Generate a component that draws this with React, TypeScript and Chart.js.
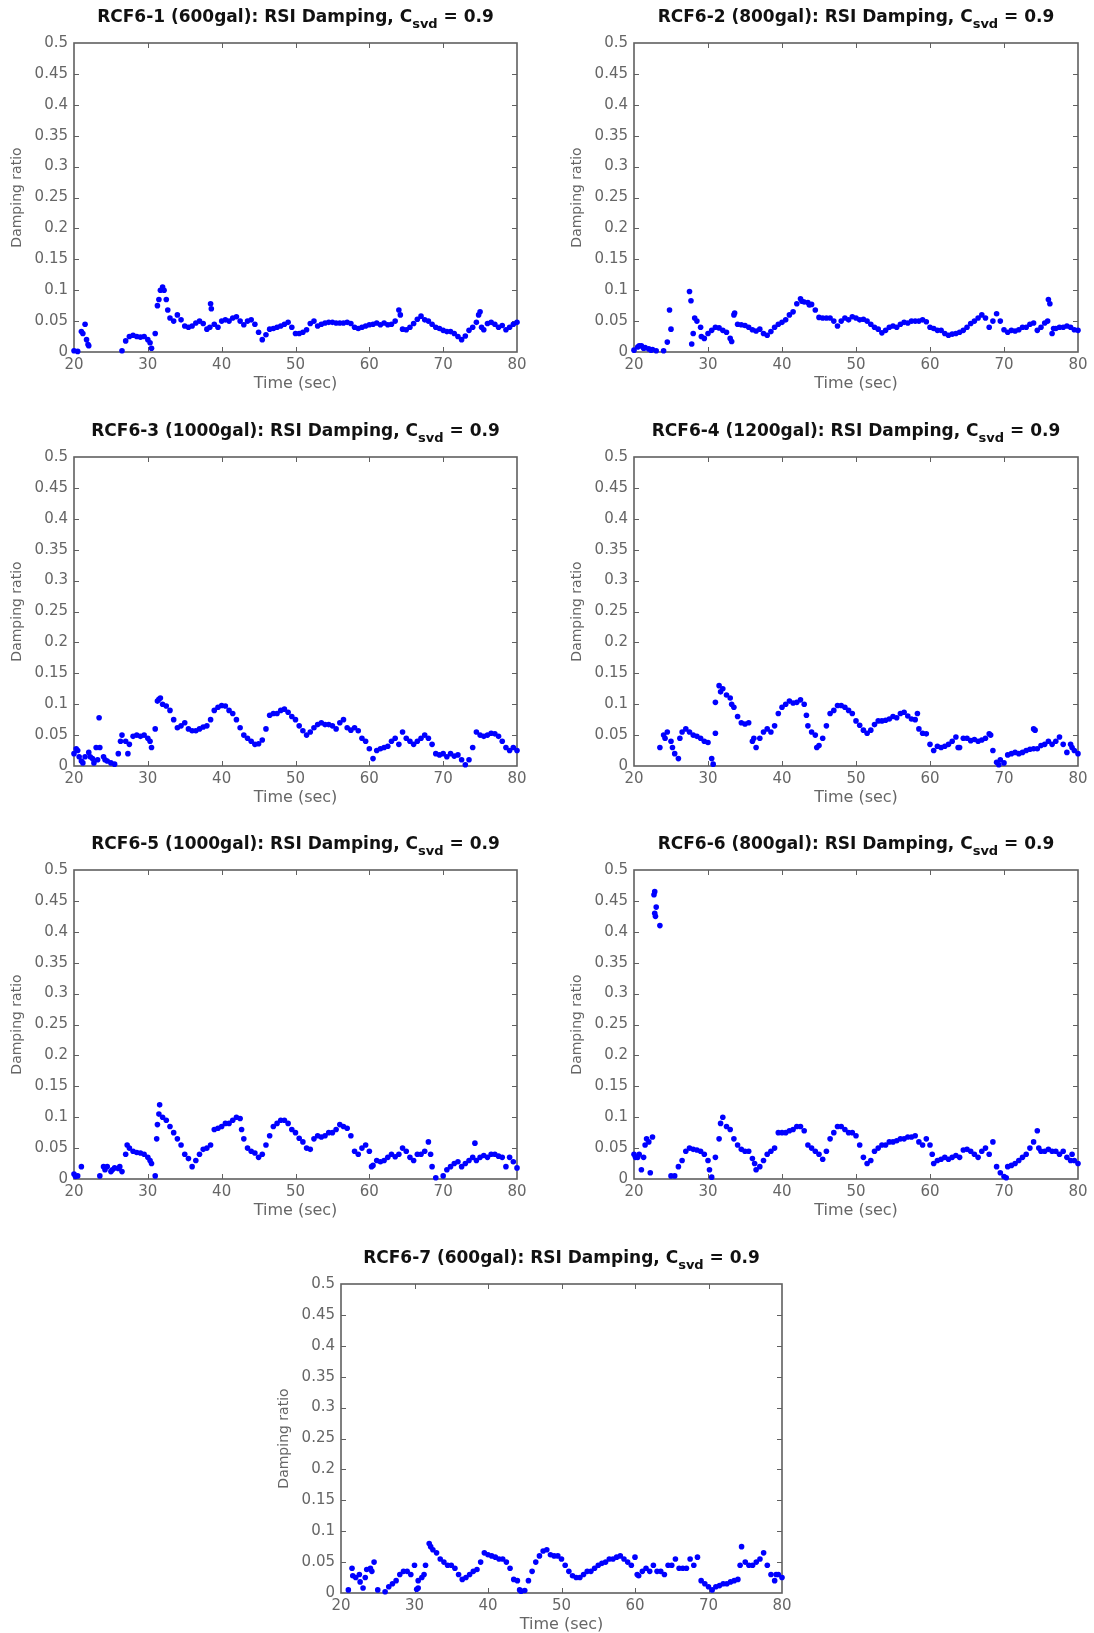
import React, { useEffect, useRef } from "react";
import { Chart, registerables } from "chart.js";

Chart.register(...registerables);

// Identified RSI damping ratio, sampled every 0.5 s from 20 s to 80 s (null = no estimate)
const T_START = 20;
const T_STEP = 0.5;

const X_TICKS = [20, 30, 40, 50, 60, 70, 80];
const Y_TICKS = [0, 0.05, 0.1, 0.15, 0.2, 0.25, 0.3, 0.35, 0.4, 0.45, 0.5];
const Y_TICK_LABELS = ["0", "0.05", "0.1", "0.15", "0.2", "0.25", "0.3", "0.35", "0.4", "0.45", "0.5"];

const TEST_NAMES = [
  "RCF6-1 (600gal)",
  "RCF6-2 (800gal)",
  "RCF6-3 (1000gal)",
  "RCF6-4 (1200gal)",
  "RCF6-5 (1000gal)",
  "RCF6-6 (800gal)",
  "RCF6-7 (600gal)",
];

const RCF6_1: (number | null)[] = [
  0.002, 0.001, 0.033, 0.045, 0.01, null, null, null, null, null,
  null, null, null, 0.002, 0.018, 0.025, 0.027, 0.025, 0.024, 0.025,
  0.02, 0.006, 0.03, 0.085, 0.105, 0.085, 0.055, 0.05, 0.06, 0.052,
  0.042, 0.04, 0.042, 0.047, 0.05, 0.046, 0.037, 0.078, 0.045, 0.04,
  0.05, 0.052, 0.05, 0.055, 0.057, 0.05, 0.044, 0.05, 0.052, 0.045,
  0.032, 0.02, 0.028, 0.037, 0.038, 0.04, 0.042, 0.045, 0.048, 0.04,
  0.03, 0.03, 0.032, 0.036, 0.046, 0.05, 0.042, 0.045, 0.047, 0.048,
  0.048, 0.047, 0.047, 0.047, 0.048, 0.046, 0.04, 0.038, 0.04, 0.042,
  0.044, 0.045, 0.047, 0.044, 0.047, 0.044, 0.045, 0.05, 0.068, 0.037,
  0.036, 0.04, 0.046, 0.053, 0.058, 0.052, 0.05, 0.045, 0.04, 0.038,
  0.035, 0.033, 0.033, 0.03, 0.025, 0.02, 0.026, 0.035, 0.04, 0.048,
  0.065, 0.036, 0.046, 0.048, 0.045, 0.04, 0.043, 0.036, 0.04, 0.045,
  0.048,
];
const RCF6_1_EXTRA: [number, number][] = [
  [21.2, 0.03], [21.7, 0.02], [21.9, 0.012], [30.3, 0.015], [31.3, 0.075], [31.7, 0.1],
  [32.2, 0.1], [32.7, 0.068], [38.6, 0.07], [38.4, 0.04], [64.2, 0.06], [74.8, 0.06], [75.2, 0.04],
];

const RCF6_2: (number | null)[] = [
  0.003, 0.008, 0.01, 0.007, 0.005, 0.004, 0.002, null, 0.002, 0.016,
  0.037, null, null, null, null, 0.098, 0.03, 0.05, 0.04, 0.022,
  0.03, 0.035, 0.04, 0.039, 0.035, 0.032, 0.022, 0.06, 0.045, 0.044,
  0.043, 0.04, 0.036, 0.034, 0.037, 0.03, 0.027, 0.033, 0.04, 0.045,
  0.048, 0.052, 0.06, 0.065, 0.078, 0.086, 0.081, 0.08, 0.077, 0.068,
  0.056, 0.055, 0.055, 0.055, 0.05, 0.042, 0.05, 0.055, 0.052, 0.057,
  0.055, 0.052, 0.053, 0.05, 0.045, 0.04, 0.037, 0.031, 0.035, 0.04,
  0.042, 0.04, 0.045, 0.048, 0.047, 0.05, 0.05, 0.05, 0.052, 0.049,
  0.04, 0.038, 0.035, 0.035, 0.03, 0.027, 0.029, 0.03, 0.032, 0.035,
  0.04, 0.046, 0.05, 0.055, 0.06, 0.055, 0.04, 0.05, 0.062, 0.05,
  0.036, 0.032, 0.035, 0.034, 0.036, 0.04, 0.04, 0.045, 0.047, 0.035,
  0.04, 0.047, 0.085, 0.03, 0.038, 0.04, 0.04, 0.042, 0.04, 0.036,
  0.035,
];
const RCF6_2_EXTRA: [number, number][] = [
  [20.7, 0.01], [21.3, 0.006], [22.3, 0.003], [24.8, 0.068], [27.7, 0.083], [27.8, 0.013],
  [28.2, 0.055], [29.1, 0.025], [33.2, 0.017], [33.6, 0.063], [42.7, 0.082], [43.7, 0.076],
  [75.9, 0.05], [76.2, 0.078], [76.7, 0.038],
];

const RCF6_3: (number | null)[] = [
  0.02, 0.025, 0.008, 0.015, 0.022, 0.012, 0.03, 0.03, 0.015, 0.008,
  0.005, 0.003, 0.02, 0.05, 0.04, 0.035, 0.048, 0.05, 0.048, 0.05,
  0.045, 0.03, 0.06, 0.108, 0.1, 0.097, 0.09, 0.075, 0.062, 0.065,
  0.07, 0.06, 0.057, 0.057, 0.06, 0.063, 0.065, 0.075, 0.09, 0.095,
  0.098, 0.097, 0.09, 0.085, 0.075, 0.062, 0.05, 0.045, 0.04, 0.035,
  0.036, 0.042, 0.06, 0.082, 0.085, 0.085, 0.09, 0.092, 0.087, 0.08,
  0.075, 0.065, 0.057, 0.05, 0.055, 0.062, 0.067, 0.07, 0.067, 0.067,
  0.065, 0.06, 0.07, 0.075, 0.062, 0.058, 0.062, 0.057, 0.045, 0.04,
  0.028, 0.012, 0.025, 0.028, 0.03, 0.032, 0.04, 0.045, 0.035, 0.055,
  0.045, 0.04, 0.035, 0.04, 0.045, 0.05, 0.045, 0.035, 0.02, 0.018,
  0.02, 0.015, 0.02, 0.016, 0.018, 0.01, 0.002, 0.01, 0.03, 0.055,
  0.05, 0.048, 0.05, 0.053, 0.052, 0.048, 0.04, 0.03, 0.025, 0.03,
  0.025,
];
const RCF6_3_EXTRA: [number, number][] = [
  [20.3, 0.028], [20.7, 0.015], [21.2, 0.005], [22.2, 0.015], [22.7, 0.005], [23.2, 0.01],
  [23.4, 0.078], [24.2, 0.01], [26.3, 0.04], [27.3, 0.02], [30.3, 0.04], [31.3, 0.105], [31.7, 0.11],
];

const RCF6_4: (number | null)[] = [
  null, null, null, null, null, null, null, 0.03, 0.05, 0.055,
  0.04, 0.02, 0.012, 0.055, 0.06, 0.055, 0.05, 0.048, 0.045, 0.04,
  0.038, 0.012, 0.053, 0.13, 0.125, 0.115, 0.11, 0.095, 0.08, 0.07,
  0.068, 0.07, 0.04, 0.03, 0.045, 0.055, 0.06, 0.055, 0.065, 0.085,
  0.095, 0.1, 0.105, 0.102, 0.103, 0.107, 0.1, 0.065, 0.055, 0.05,
  0.033, 0.045, 0.065, 0.085, 0.09, 0.098, 0.098, 0.095, 0.09, 0.085,
  0.073, 0.066, 0.058, 0.053, 0.058, 0.067, 0.073, 0.073, 0.074, 0.076,
  0.08, 0.078, 0.085, 0.087, 0.081, 0.076, 0.075, 0.06, 0.053, 0.052,
  0.035, 0.025, 0.032, 0.03, 0.032, 0.035, 0.04, 0.047, 0.03, 0.045,
  0.045, 0.041, 0.043, 0.04, 0.042, 0.045, 0.052, 0.025, 0.006, 0.01,
  0.005, 0.018, 0.02, 0.022, 0.02, 0.022, 0.025, 0.027, 0.028, 0.028,
  0.033, 0.035, 0.04, 0.035, 0.04, 0.047, 0.035, 0.022, 0.035, 0.025,
  0.02,
];
const RCF6_4_EXTRA: [number, number][] = [
  [24.2, 0.045], [25.2, 0.03], [26.2, 0.045], [30.7, 0.003], [31.0, 0.103], [31.7, 0.12],
  [33.2, 0.1], [36.2, 0.045], [43.3, 0.082], [44.7, 0.03], [58.3, 0.085], [63.8, 0.03],
  [68.2, 0.05], [69.3, 0.002], [74.0, 0.06], [74.2, 0.058], [79.2, 0.03],
];

const RCF6_5: (number | null)[] = [
  0.008, 0.005, 0.02, null, null, null, null, 0.005, 0.02, 0.02,
  0.012, 0.018, 0.017, 0.012, 0.04, 0.05, 0.045, 0.043, 0.042, 0.04,
  0.035, 0.025, 0.005, 0.105, 0.1, 0.095, 0.085, 0.075, 0.065, 0.055,
  0.04, 0.033, 0.02, 0.03, 0.04, 0.048, 0.05, 0.055, 0.08, 0.082,
  0.085, 0.09, 0.09, 0.095, 0.1, 0.098, 0.065, 0.05, 0.045, 0.042,
  0.035, 0.04, 0.055, 0.07, 0.085, 0.09, 0.095, 0.095, 0.09, 0.08,
  0.075, 0.066, 0.06, 0.05, 0.048, 0.065, 0.07, 0.068, 0.07, 0.075,
  0.075, 0.08, 0.088, 0.085, 0.082, 0.07, 0.045, 0.04, 0.05, 0.055,
  0.045, 0.022, 0.03, 0.028, 0.03, 0.035, 0.04, 0.036, 0.04, 0.05,
  0.045, 0.035, 0.03, 0.04, 0.04, 0.045, 0.06, 0.02, 0.002, null,
  0.005, 0.015, 0.02, 0.025, 0.028, 0.02, 0.025, 0.03, 0.035, 0.03,
  0.035, 0.038, 0.035, 0.04, 0.04, 0.037, 0.035, 0.02, 0.035, 0.028,
  0.018,
];
const RCF6_5_EXTRA: [number, number][] = [
  [20.2, 0.004], [24.2, 0.015], [25.2, 0.015], [26.2, 0.02], [27.2, 0.055], [30.3, 0.03],
  [31.2, 0.065], [31.3, 0.088], [31.6, 0.12], [42.7, 0.08], [60.3, 0.02], [68.3, 0.04], [74.3, 0.058],
];

const RCF6_6: (number | null)[] = [
  0.04, 0.035, 0.015, 0.055, 0.06, 0.068, 0.44, 0.41, null, null,
  0.005, 0.005, 0.02, 0.03, 0.045, 0.05, 0.048, 0.047, 0.045, 0.04,
  0.03, 0.003, 0.035, 0.065, 0.1, 0.085, 0.08, 0.065, 0.055, 0.048,
  0.045, 0.045, 0.033, 0.015, 0.02, 0.03, 0.04, 0.045, 0.05, 0.075,
  0.075, 0.075, 0.078, 0.08, 0.085, 0.085, 0.078, 0.055, 0.05, 0.045,
  0.04, 0.032, 0.045, 0.065, 0.075, 0.085, 0.085, 0.08, 0.075, 0.075,
  0.07, 0.055, 0.035, 0.025, 0.03, 0.045, 0.05, 0.055, 0.055, 0.06,
  0.06, 0.062, 0.065, 0.065, 0.068, 0.068, 0.07, 0.06, 0.055, 0.065,
  0.055, 0.025, 0.03, 0.032, 0.035, 0.032, 0.035, 0.038, 0.035, 0.047,
  0.048, 0.045, 0.04, 0.035, 0.045, 0.05, 0.04, 0.06, 0.02, 0.01,
  0.004, 0.02, 0.022, 0.025, 0.03, 0.035, 0.04, 0.05, 0.06, 0.078,
  0.045, 0.045, 0.048, 0.045, 0.045, 0.04, 0.045, 0.035, 0.03, 0.03,
  0.025,
];
const RCF6_6_EXTRA: [number, number][] = [
  [20.2, 0.035], [20.7, 0.04], [21.3, 0.035], [21.7, 0.065], [22.2, 0.01], [22.7, 0.46],
  [22.8, 0.465], [22.8, 0.43], [22.9, 0.425], [30.2, 0.015], [31.7, 0.09], [36.3, 0.025],
  [60.3, 0.04], [70.3, 0.002], [74.7, 0.05], [79.2, 0.04],
];

const RCF6_7: (number | null)[] = [
  null, null, 0.005, 0.04, 0.025, 0.03, 0.008, 0.038, 0.04, 0.05,
  0.005, null, 0.002, 0.01, 0.015, 0.02, 0.03, 0.035, 0.035, 0.03,
  0.045, 0.02, 0.025, 0.045, 0.08, 0.07, 0.065, 0.055, 0.05, 0.045,
  0.045, 0.04, 0.03, 0.022, 0.025, 0.03, 0.035, 0.038, 0.05, 0.065,
  0.062, 0.06, 0.058, 0.055, 0.055, 0.05, 0.04, 0.022, 0.02, 0.003,
  0.004, 0.02, 0.035, 0.05, 0.06, 0.068, 0.07, 0.062, 0.06, 0.06,
  0.055, 0.045, 0.035, 0.028, 0.025, 0.025, 0.03, 0.035, 0.035, 0.04,
  0.045, 0.048, 0.05, 0.055, 0.055, 0.058, 0.06, 0.055, 0.05, 0.045,
  0.058, 0.028, 0.035, 0.04, 0.035, 0.045, 0.035, 0.035, 0.03, 0.045,
  0.045, 0.055, 0.04, 0.04, 0.04, 0.055, 0.045, 0.058, 0.02, 0.015,
  0.01, 0.005, 0.01, 0.012, 0.015, 0.015, 0.018, 0.02, 0.022, 0.075,
  0.05, 0.045, 0.045, 0.05, 0.055, 0.065, 0.045, 0.03, 0.02, 0.03,
  0.025,
];
const RCF6_7_EXTRA: [number, number][] = [
  [21.6, 0.028], [22.6, 0.018], [23.3, 0.025], [24.2, 0.035], [30.3, 0.006], [30.5, 0.008],
  [31.3, 0.03], [32.2, 0.075], [44.3, 0.005], [60.3, 0.03], [74.3, 0.045], [79.2, 0.03],
];

const SERIES = [RCF6_1, RCF6_2, RCF6_3, RCF6_4, RCF6_5, RCF6_6, RCF6_7];
const EXTRAS = [RCF6_1_EXTRA, RCF6_2_EXTRA, RCF6_3_EXTRA, RCF6_4_EXTRA, RCF6_5_EXTRA, RCF6_6_EXTRA, RCF6_7_EXTRA];

// Page placement of each plot box (pixels)
const PLOT_BOXES = [
  { left: 74, top: 43, width: 443 },
  { left: 634, top: 43, width: 444 },
  { left: 74, top: 457, width: 443 },
  { left: 634, top: 457, width: 444 },
  { left: 74, top: 870, width: 443 },
  { left: 634, top: 870, width: 444 },
  { left: 341, top: 1284, width: 441 },
];
const PLOT_H = 309;
const M_LEFT = 74;
const M_TOP = 43;
const M_RIGHT = 14;
const M_BOTTOM = 50;

const FONT = "'DejaVu Sans', 'Liberation Sans', sans-serif";
const TEXT_GRAY = "#666666";
const FRAME_GRAY = "#606060";
const DOT_BLUE = "#0000ff";

const framePlugin = {
  id: "matlabFrame",
  beforeDatasetsDraw(chart: any) {
    const { ctx, chartArea: a, scales } = chart;
    const tick = 5;
    ctx.save();
    ctx.strokeStyle = FRAME_GRAY;
    ctx.lineWidth = 1.6;
    ctx.strokeRect(a.left, a.top, a.right - a.left, a.bottom - a.top);
    ctx.lineWidth = 1;
    ctx.beginPath();
    X_TICKS.slice(1, -1).forEach((v) => {
      const px = Math.round(scales.x.getPixelForValue(v)) + 0.5;
      ctx.moveTo(px, a.top);
      ctx.lineTo(px, a.top + tick);
      ctx.moveTo(px, a.bottom);
      ctx.lineTo(px, a.bottom - tick);
    });
    Y_TICKS.slice(1, -1).forEach((v) => {
      const py = Math.round(scales.y.getPixelForValue(v)) + 0.5;
      ctx.moveTo(a.left, py);
      ctx.lineTo(a.left + tick, py);
      ctx.moveTo(a.right, py);
      ctx.lineTo(a.right - tick, py);
    });
    ctx.stroke();
    ctx.restore();
  },
};

const titlePlugin = {
  id: "subscriptTitle",
  afterDraw(chart: any, _args: any, opts: any) {
    const { ctx, chartArea: a } = chart;
    const main = `${opts.name}: RSI Damping, C`;
    const sub = "svd";
    const tail = " = 0.9";
    ctx.save();
    ctx.fillStyle = "#111111";
    ctx.textBaseline = "alphabetic";
    ctx.textAlign = "left";
    const mainFont = `bold 17px ${FONT}`;
    const subFont = `bold 13px ${FONT}`;
    ctx.font = mainFont;
    const wMain = ctx.measureText(main).width;
    const wTail = ctx.measureText(tail).width;
    ctx.font = subFont;
    const wSub = ctx.measureText(sub).width;
    const total = wMain + wSub + wTail;
    let x = (a.left + a.right) / 2 - total / 2;
    const base = a.top - 21;
    ctx.font = mainFont;
    ctx.fillText(main, x, base);
    x += wMain;
    ctx.font = subFont;
    ctx.fillText(sub, x, base + 6);
    x += wSub;
    ctx.font = mainFont;
    ctx.fillText(tail, x, base);
    ctx.restore();
  },
};

function Panel({ index }: { index: number }) {
  const ref = useRef<HTMLCanvasElement | null>(null);
  const box = PLOT_BOXES[index];
  const cw = M_LEFT + box.width + M_RIGHT;
  const ch = M_TOP + PLOT_H + M_BOTTOM;

  useEffect(() => {
    if (!ref.current) return;
    const points: { x: number; y: number }[] = [];
    SERIES[index].forEach((v, i) => {
      if (v !== null) points.push({ x: T_START + i * T_STEP, y: v });
    });
    EXTRAS[index].forEach(([t, v]) => points.push({ x: t, y: v }));

    const chart = new Chart(ref.current, {
      type: "scatter",
      data: {
        datasets: [
          {
            data: points,
            pointRadius: 2.8,
            pointHoverRadius: 2.8,
            pointBorderWidth: 0,
            pointBackgroundColor: DOT_BLUE,
            backgroundColor: DOT_BLUE,
            borderColor: DOT_BLUE,
            clip: false as any,
          },
        ],
      },
      options: {
        animation: false,
        responsive: false,
        devicePixelRatio: 1,
        events: [],
        layout: { padding: { top: M_TOP, right: M_RIGHT, left: 0, bottom: 0 } },
        plugins: {
          legend: { display: false },
          tooltip: { enabled: false },
          title: { display: false },
          subscriptTitle: { name: TEST_NAMES[index] },
        } as any,
        scales: {
          x: {
            type: "linear",
            min: 20,
            max: 80,
            afterBuildTicks: (s: any) => {
              s.ticks = X_TICKS.map((v) => ({ value: v }));
            },
            afterFit: (s: any) => {
              s.height = M_BOTTOM;
            },
            grid: { display: false, drawTicks: false },
            border: { display: false },
            ticks: {
              color: TEXT_GRAY,
              font: { family: FONT, size: 15 },
              padding: 4,
              maxRotation: 0,
              autoSkip: false,
              callback: (v: any) => String(v),
            },
            title: {
              display: true,
              text: "Time (sec)",
              color: TEXT_GRAY,
              font: { family: FONT, size: 16 },
              padding: { top: 0, bottom: 9 },
            },
          },
          y: {
            type: "linear",
            min: 0,
            max: 0.5,
            afterBuildTicks: (s: any) => {
              s.ticks = Y_TICKS.map((v) => ({ value: v }));
            },
            afterFit: (s: any) => {
              s.width = M_LEFT;
            },
            grid: { display: false, drawTicks: false },
            border: { display: false },
            ticks: {
              color: TEXT_GRAY,
              font: { family: FONT, size: 15 },
              padding: 6,
              autoSkip: false,
              callback: (v: any) => {
                const k = Y_TICKS.findIndex((t) => Math.abs(t - Number(v)) < 1e-9);
                return k >= 0 ? Y_TICK_LABELS[k] : "";
              },
            },
            title: {
              display: true,
              text: "Damping ratio",
              color: TEXT_GRAY,
              font: { family: FONT, size: 14 },
              padding: { top: 9, bottom: 0 },
            },
          },
        },
      } as any,
      plugins: [framePlugin, titlePlugin],
    });
    return () => chart.destroy();
  }, [index]);

  return (
    <canvas
      ref={ref}
      width={cw}
      height={ch}
      style={{
        position: "absolute",
        left: box.left - M_LEFT,
        top: box.top - M_TOP,
        width: cw,
        height: ch,
      }}
    />
  );
}

export default function App() {
  return (
    <div
      style={{
        position: "absolute",
        left: 0,
        top: 0,
        width: 1094,
        height: 1633,
        background: "#ffffff",
        overflow: "hidden",
      }}
    >
      {PLOT_BOXES.map((_, i) => (
        <Panel key={i} index={i} />
      ))}
    </div>
  );
}
